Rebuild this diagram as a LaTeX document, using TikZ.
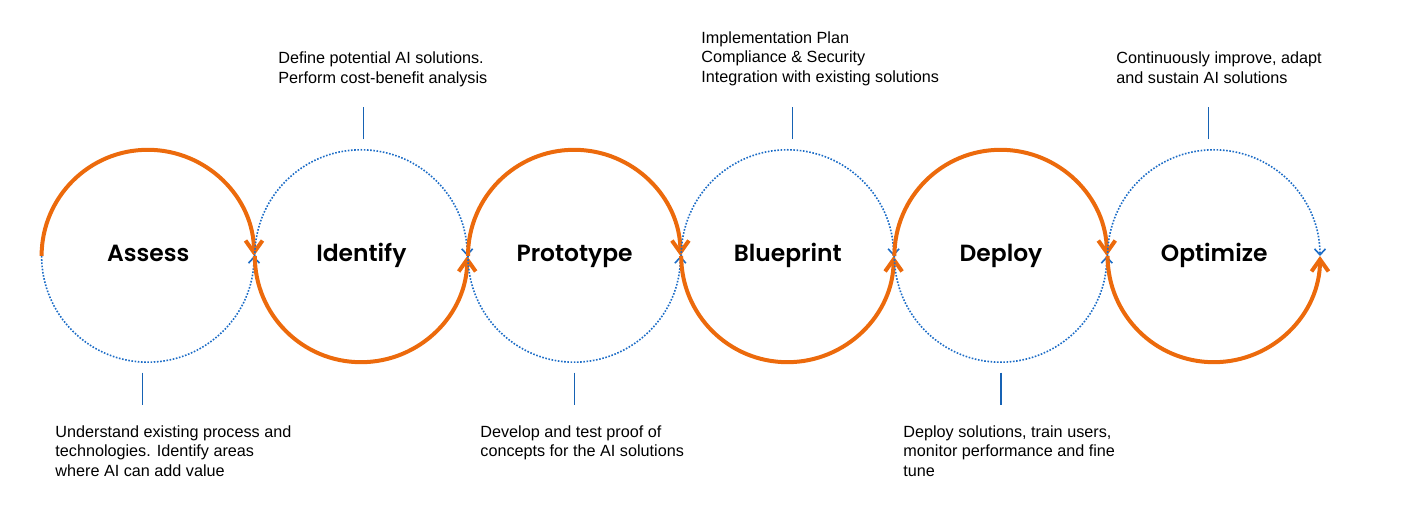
\documentclass[tikz,border=0pt]{standalone}
\usepackage{fontspec}
\setmainfont{Liberation Sans}
\newfontfamily\titlefont{Poppins}[BoldFont={Poppins SemiBold}]
\usepackage{tikz}
\usetikzlibrary{arrows.meta,positioning}
\definecolor{arcOrange}{RGB}{236,106,12}
\definecolor{arcBlue}{RGB}{28,108,198}
\definecolor{tickBlue}{RGB}{22,98,180}
\newcommand{\stageR}{53.1pt}
\tikzset{%
  % Specifications for style of nodes:
     stage/.style = {circle, minimum size=106.2pt, inner sep=0pt,
                     text height=6pt, text depth=0pt,
                     font=\titlefont\bfseries\fontsize{11.7pt}{13pt}\selectfont},
     note/.style = {anchor=base west, align=left, inner sep=0pt,
                    font=\fontsize{8.1pt}{9.75pt}\selectfont},
  % Specifications for style of lines:
     solidArc/.style = {draw=arcOrange, line width=2pt,
                        -{Straight Barb[length=6pt,width=8.5pt]}},
     dotArc/.style = {draw=arcBlue, line width=0.8pt,
                      dash pattern=on 0.8pt off 0.8pt,
                      -{Straight Barb[length=3pt,width=5.5pt]}},
     tick/.style = {draw=tickBlue, line width=0.6pt},
}
\begin{document}
\begin{tikzpicture}[x=0.5pt, y=0.5pt]
  \useasboundingbox (0,0) rectangle (1410,-517);

  % Specification of stages (position, etc.)
  \node (assess)    [stage] at (148.2,-256) {Assess};
  \node (identify)  [stage, right=0pt of assess]    {Identify};
  \node (prototype) [stage, right=0pt of identify]  {Prototype};
  \node (blueprint) [stage, right=0pt of prototype] {Blueprint};
  \node (deploy)    [stage, right=0pt of blueprint] {Deploy};
  \node (optimize)  [stage, right=0pt of deploy]    {Optimize};

  % Descriptions above and below the stages (placed by their last line)
  \node (identifyNote)  [note] at (278,-83.5)
                        {Define potential AI solutions.\\
                         Perform cost-benefit analysis};
  \node (blueprintNote) [note] at (701,-82.5)
                        {Implementation Plan\\
                         Compliance \& Security\\
                         Integration with existing solutions};
  \node (optimizeNote)  [note] at (1116,-83.5)
                        {Continuously improve, adapt\\
                         and sustain AI solutions};
  \node (assessNote)    [note] at (55,-476.5)
                        {Understand existing process and\\
                         technologies. Identify areas\\
                         where AI can add value};
  \node (prototypeNote) [note] at (480,-457)
                        {Develop and test proof of\\
                         concepts for the AI solutions};
  \node (deployNote)    [note] at (903,-476.5)
                        {Deploy solutions, train users,\\
                         monitor performance and fine\\
                         tune};

  % Half circles: solid orange and dotted blue
  \draw[solidArc] (assess.west) arc[start angle=180, end angle=0, radius=\stageR];
  \draw[dotArc]   (assess.west) arc[start angle=180, end angle=360, radius=\stageR];

  \draw[dotArc]   (identify.west) arc[start angle=180, end angle=0, radius=\stageR];
  \draw[solidArc] (identify.west) arc[start angle=180, end angle=360, radius=\stageR];

  \draw[solidArc] (prototype.west) arc[start angle=180, end angle=0, radius=\stageR];
  \draw[dotArc]   (prototype.west) arc[start angle=180, end angle=360, radius=\stageR];

  \draw[dotArc]   (blueprint.west) arc[start angle=180, end angle=0, radius=\stageR];
  \draw[solidArc] (blueprint.west) arc[start angle=180, end angle=360, radius=\stageR];

  \draw[solidArc] (deploy.west) arc[start angle=180, end angle=0, radius=\stageR];
  \draw[dotArc]   (deploy.west) arc[start angle=180, end angle=360, radius=\stageR];

  \draw[dotArc]   (optimize.west) arc[start angle=180, end angle=0, radius=\stageR];
  \draw[solidArc] (optimize.west) arc[start angle=180, end angle=360, radius=\stageR];

  % Short ticks between stages and descriptions
  \draw[tick] ([xshift=1.2pt, yshift=5pt]identify.north) -- ++(0,32);
  \draw[tick] ([xshift=2.4pt, yshift=5pt]blueprint.north) -- ++(0,32);
  \draw[tick] ([xshift=-2.8pt, yshift=5pt]optimize.north) -- ++(0,32);
  \draw[tick] ([xshift=-3pt, yshift=-5pt]assess.south) -- ++(0,-32);
  \draw[tick] ([yshift=-5pt]prototype.south) -- ++(0,-32);
  \draw[tick] ([yshift=-5pt]deploy.south) -- ++(0,-32);

\end{tikzpicture}
\end{document}
